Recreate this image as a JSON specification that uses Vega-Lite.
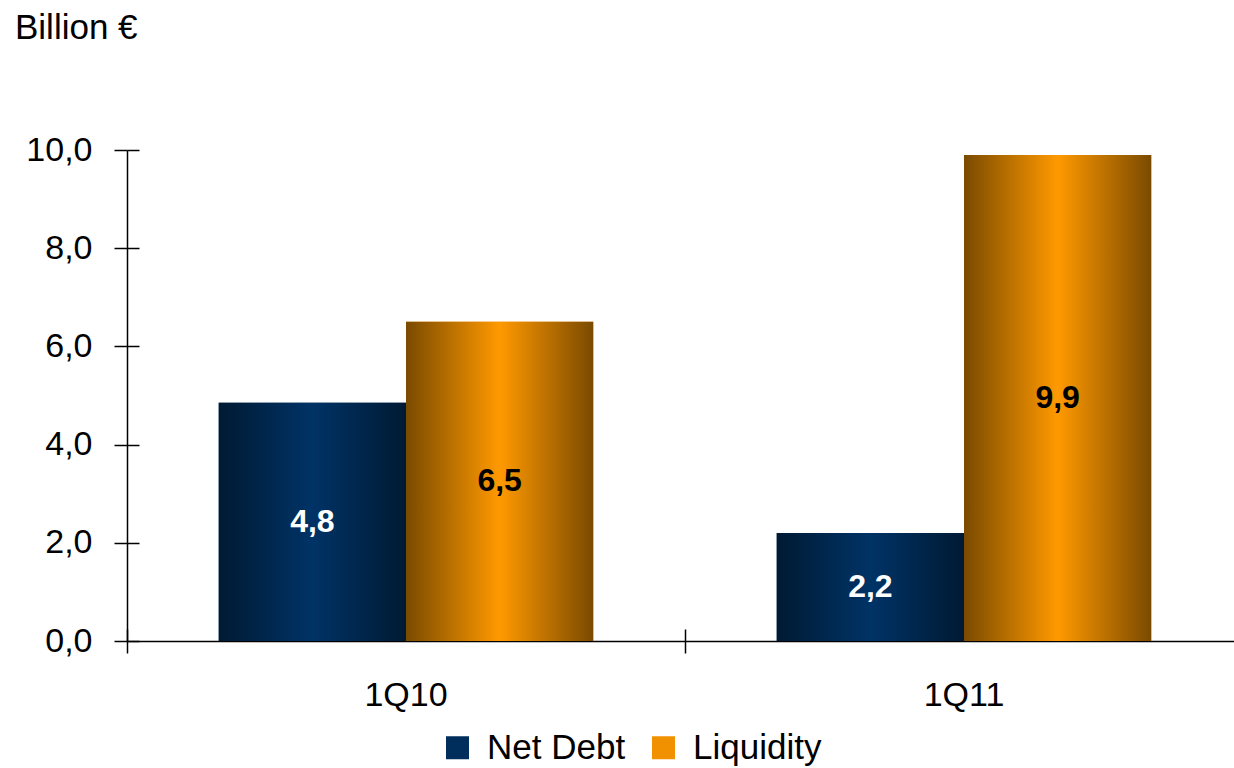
{
  "$schema": "https://vega.github.io/schema/vega-lite/v6.json",
  "width": 1116,
  "height": 491,
  "autosize": "none",
  "padding": {"left": 127, "top": 150, "right": 0, "bottom": 127},
  "config": {
    "locale": {"number": {"decimal": ",", "thousands": ".", "grouping": [3], "currency": ["", " €"]}},
    "view": {"stroke": null},
    "font": "Liberation Sans"
  },
  "title": {"text": "Billion €", "anchor": "start", "frame": "group", "dx": -112, "offset": 59, "baseline": "alphabetic", "fontSize": 35, "fontWeight": "normal", "font": "Liberation Sans", "color": "black"},
  "data": {"values": [
    {"quarter": "1Q10", "series": "Net Debt", "value": 4.85},
    {"quarter": "1Q10", "series": "Liquidity", "value": 6.5},
    {"quarter": "1Q11", "series": "Net Debt", "value": 2.2},
    {"quarter": "1Q11", "series": "Liquidity", "value": 9.9}
  ]},
  "layer": [
    {
      "layer": [
        {
          "mark": {"type": "bar", "strokeWidth": 0},
          "encoding": {
            "x": {"field": "quarter", "type": "nominal", "sort": ["1Q10", "1Q11"], "scale": {"paddingInner": 0, "paddingOuter": 0},
              "axis": {"title": null, "labelAngle": 0, "bandPosition": 0, "labelFontSize": 34, "labelColor": "black", "labelPadding": 25, "tickSize": 12, "tickColor": "black", "tickWidth": 1.5, "domainColor": "black", "domainWidth": 1.5}},
            "xOffset": {"field": "series", "type": "nominal", "sort": ["Net Debt", "Liquidity"], "scale": {"paddingInner": 0, "paddingOuter": 0.49}},
            "y": {"field": "value", "type": "quantitative", "scale": {"domain": [0, 10]},
              "axis": {"title": null, "values": [0, 2, 4, 6, 8, 10], "format": ".1f", "grid": false, "labelFontSize": 34, "labelColor": "black", "labelPadding": 22, "tickSize": 13, "tickColor": "black", "tickWidth": 1.5, "domainColor": "black", "domainWidth": 1.5}},
            "fill": {"field": "series", "type": "nominal", "sort": ["Net Debt", "Liquidity"],
              "scale": {"domain": ["Net Debt", "Liquidity"], "range": ["#002e5c", "#f29100"]},
              "legend": {"orient": "none", "legendX": 313, "legendY": 580, "direction": "horizontal", "title": null, "symbolType": "square", "symbolSize": 529, "symbolStrokeWidth": 0, "symbolOpacity": 1, "labelFontSize": 35, "labelColor": "black", "labelOffset": 12, "columnPadding": 20, "padding": 0}}
          }
        },
        {
          "transform": [{"filter": "datum.series === 'Net Debt'"}],
          "mark": {"type": "bar", "fill": {"gradient": "linear", "x1": 0, "y1": 0, "x2": 1, "y2": 0, "stops": [{"offset": 0, "color": "#001a33"}, {"offset": 0.5, "color": "#003366"}, {"offset": 1, "color": "#001a33"}]}},
          "encoding": {
            "x": {"field": "quarter", "type": "nominal", "sort": ["1Q10", "1Q11"]},
            "xOffset": {"field": "series", "type": "nominal", "sort": ["Net Debt", "Liquidity"]},
            "y": {"field": "value", "type": "quantitative"}
          }
        },
        {
          "transform": [{"filter": "datum.series === 'Liquidity'"}],
          "mark": {"type": "bar", "fill": {"gradient": "linear", "x1": 0, "y1": 0, "x2": 1, "y2": 0, "stops": [{"offset": 0, "color": "#7a4a00"}, {"offset": 0.5, "color": "#ff9900"}, {"offset": 1, "color": "#7a4a00"}]}},
          "encoding": {
            "x": {"field": "quarter", "type": "nominal", "sort": ["1Q10", "1Q11"]},
            "xOffset": {"field": "series", "type": "nominal", "sort": ["Net Debt", "Liquidity"]},
            "y": {"field": "value", "type": "quantitative"}
          }
        }
      ]
    },
    {
      "mark": {"type": "text", "fontSize": 32, "fontWeight": "bold", "baseline": "middle"},
      "encoding": {
        "x": {"field": "quarter", "type": "nominal", "sort": ["1Q10", "1Q11"], "scale": {"paddingInner": 0, "paddingOuter": 0},
          "axis": {"orient": "bottom", "title": null, "labels": false, "domain": false, "bandPosition": 0, "tickSize": -12, "tickColor": "black", "tickWidth": 1.5}},
        "xOffset": {"field": "series", "type": "nominal", "sort": ["Net Debt", "Liquidity"], "scale": {"paddingInner": 0, "paddingOuter": 0.49}},
        "y": {"field": "value", "type": "quantitative", "scale": {"domain": [0, 20]},
          "axis": {"orient": "left", "title": null, "labels": false, "domain": false, "grid": false, "values": [0, 4, 8, 12, 16, 20], "tickSize": -12, "tickColor": "black", "tickWidth": 1.5}},
        "text": {"field": "value", "type": "quantitative", "format": ".1f"},
        "color": {"field": "series", "type": "nominal", "scale": {"domain": ["Net Debt", "Liquidity"], "range": ["white", "black"]}, "legend": null}
      }
    }
  ],
  "resolve": {"scale": {"y": "independent", "x": "independent"}, "axis": {"x": "independent", "y": "independent"}}
}
